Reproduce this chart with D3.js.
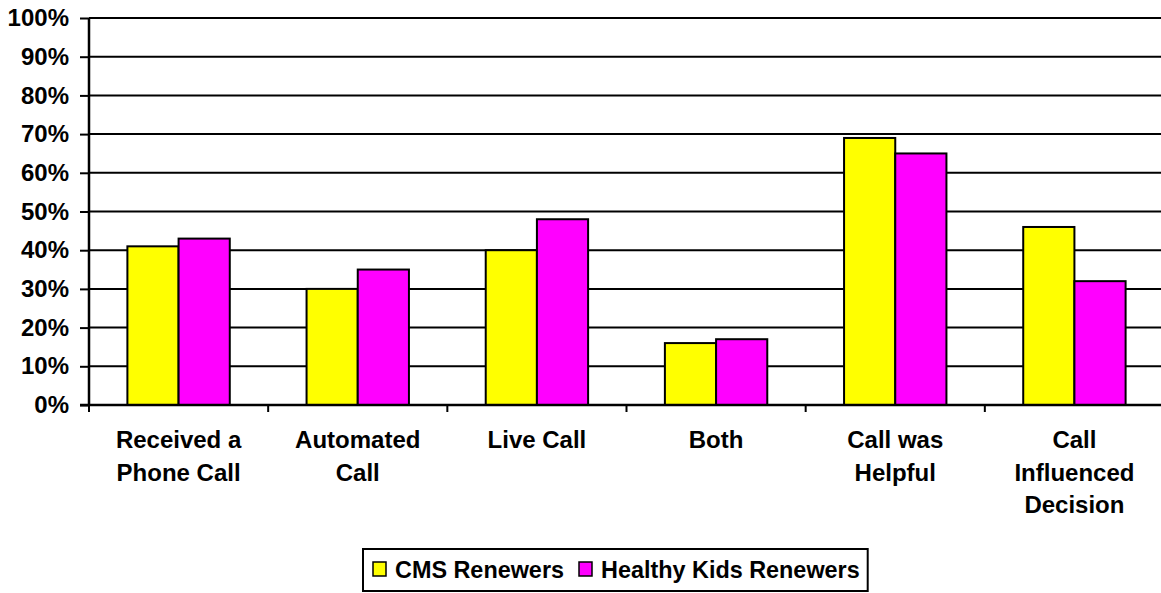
<!DOCTYPE html>
<html>
<head>
<meta charset="utf-8">
<script src="https://cdn.jsdelivr.net/npm/d3@7"></script>
<style>
  html, body { margin: 0; padding: 0; background: #fff; }
  svg { display: block; font-family: Arial, "Liberation Sans", sans-serif; font-weight: bold; }
</style>
</head>
<body>
<svg id="chart" width="1161" height="593"></svg>
<script>
const categories = [
  ["Received a", "Phone Call"],
  ["Automated", "Call"],
  ["Live Call"],
  ["Both"],
  ["Call was", "Helpful"],
  ["Call", "Influenced", "Decision"]
];
const seriesNames = ["CMS Renewers", "Healthy Kids Renewers"];
const cmsValues = [41, 30, 40, 16, 69, 46];
const healthyKidsValues = [43, 35, 48, 17, 65, 32];
const yTicks = [0, 10, 20, 30, 40, 50, 60, 70, 80, 90, 100];
const colors = ["#ffff00", "#ff00ff"];

const svg = d3.select("#chart");
const plotLeft = 89, plotRight = 1164, plotTop = 18, plotBottom = 405;
const fontSize = 24;

const x0 = d3.scaleBand().domain(d3.range(categories.length)).range([plotLeft, plotRight]).paddingInner(0).paddingOuter(0);
const groupPad = x0.bandwidth() * 1.5 / 3.5 / 2;
const x1 = d3.scaleBand().domain([0, 1]).range([groupPad, x0.bandwidth() - groupPad]).padding(0);
const y = d3.scaleLinear().domain([0, 100]).range([plotBottom, plotTop]);

// gridlines
svg.append("g").selectAll("line").data(yTicks.filter(d => d > 0)).join("line")
  .attr("x1", plotLeft).attr("x2", plotRight)
  .attr("y1", d => y(d)).attr("y2", d => y(d))
  .attr("stroke", "#000").attr("stroke-width", 2);

// y axis
const yAxis = svg.append("g").attr("transform", `translate(${plotLeft},0)`)
  .call(d3.axisLeft(y).tickValues(yTicks).tickFormat(d => d + "%").tickSize(9).tickPadding(11));
yAxis.select(".domain").attr("stroke", "#000").attr("stroke-width", 2.5).attr("d", `M0,${plotTop}V${plotBottom}`);
yAxis.selectAll(".tick line").attr("stroke", "#000").attr("stroke-width", 2);
yAxis.selectAll(".tick text").attr("font-size", fontSize).attr("font-weight", "bold")
  .attr("font-family", "Arial, 'Liberation Sans', sans-serif").attr("fill", "#000");

// bars
const data = categories.map((c, i) => [cmsValues[i], healthyKidsValues[i]]);
const groups = svg.append("g").selectAll("g").data(data).join("g")
  .attr("transform", (d, i) => `translate(${x0(i)},0)`);
groups.selectAll("rect").data(d => d.map((v, s) => ({ v, s }))).join("rect")
  .attr("x", d => x1(d.s)).attr("width", x1.bandwidth())
  .attr("y", d => y(d.v)).attr("height", d => y(0) - y(d.v))
  .attr("fill", d => colors[d.s]).attr("stroke", "#000").attr("stroke-width", 2);

// x axis
const xAxisG = svg.append("g").attr("transform", `translate(0,${plotBottom})`);
xAxisG.append("line").attr("x1", plotLeft - 9).attr("x2", plotRight).attr("y1", 0).attr("y2", 0)
  .attr("stroke", "#000").attr("stroke-width", 2.5);
const boundaries = d3.range(categories.length + 1).map(i => plotLeft + i * x0.step());
xAxisG.selectAll("line.tick").data(boundaries).join("line").attr("class", "tick")
  .attr("x1", d => d).attr("x2", d => d).attr("y1", 0).attr("y2", 7)
  .attr("stroke", "#000").attr("stroke-width", 2);

// category labels
const labels = svg.append("g").selectAll("text").data(categories).join("text")
  .attr("text-anchor", "middle").attr("font-size", fontSize).attr("fill", "#000")
  .attr("transform", (d, i) => `translate(${x0(i) + x0.bandwidth() / 2},448)`);
labels.selectAll("tspan").data(d => d).join("tspan")
  .attr("x", 0).attr("y", (d, i) => i * 32.5).text(d => d);

// legend
const legend = svg.append("g");
const legItems = legend.selectAll("g").data(seriesNames).join("g");
legItems.append("rect").attr("width", 13).attr("height", 14).attr("y", 562)
  .attr("fill", (d, i) => colors[i]).attr("stroke", "#000").attr("stroke-width", 1.5);
legItems.append("text").attr("x", 22).attr("y", 578).attr("font-size", 23.4)
  .attr("fill", "#000").text(d => d);
let cursor = 373;
legItems.each(function () {
  const g = d3.select(this);
  g.attr("transform", `translate(${cursor},0)`);
  const w = 22 + g.select("text").node().getComputedTextLength();
  cursor += w + 15;
});
const legRight = cursor - 15 + 8;
legend.insert("rect", ":first-child")
  .attr("x", 363).attr("y", 549).attr("width", legRight - 363).attr("height", 42)
  .attr("fill", "#fff").attr("stroke", "#000").attr("stroke-width", 2);
</script>
</body>
</html>
